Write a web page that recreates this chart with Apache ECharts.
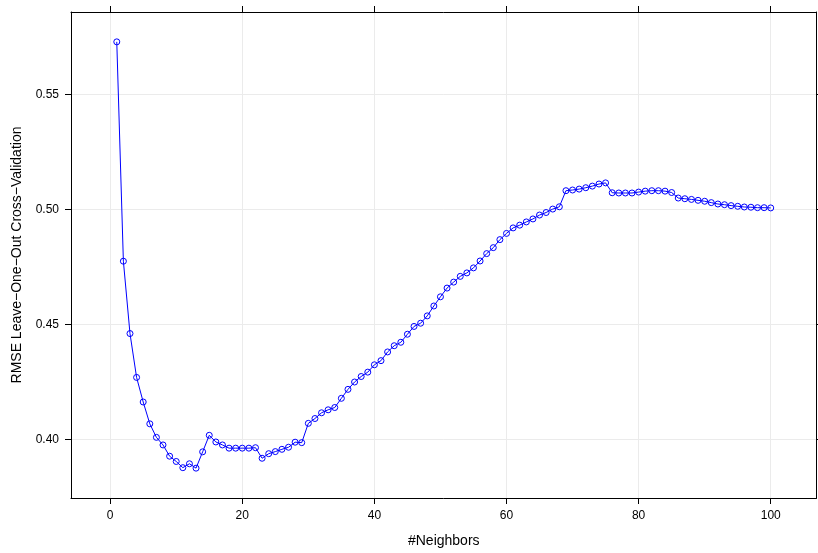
<!DOCTYPE html>
<html>
<head>
<meta charset="utf-8">
<script src="https://cdn.jsdelivr.net/npm/echarts@6/dist/echarts.min.js"></script>
<style>
  html, body { margin: 0; padding: 0; background: #fff; }
  #myChart { width: 818px; height: 553px; }
</style>
</head>
<body>
<div id="myChart"></div>
<script>
  // number of neighbors (k)
  var neighbors = [
    1, 2, 3, 4, 5, 6, 7, 8, 9, 10, 11, 12, 13, 14, 15, 16, 17, 18, 19, 20,
    21, 22, 23, 24, 25, 26, 27, 28, 29, 30, 31, 32, 33, 34, 35, 36, 37, 38, 39, 40,
    41, 42, 43, 44, 45, 46, 47, 48, 49, 50, 51, 52, 53, 54, 55, 56, 57, 58, 59, 60,
    61, 62, 63, 64, 65, 66, 67, 68, 69, 70, 71, 72, 73, 74, 75, 76, 77, 78, 79, 80,
    81, 82, 83, 84, 85, 86, 87, 88, 89, 90, 91, 92, 93, 94, 95, 96, 97, 98, 99, 100
  ]
  // RMSE leave-one-out
  var rmse = [
    0.5730, 0.4775, 0.4460, 0.4269, 0.4162, 0.4067, 0.4008, 0.3975, 0.3926, 0.3903,
    0.3876, 0.3893, 0.3874, 0.3945, 0.4017, 0.3988, 0.3975, 0.3961, 0.3961, 0.3961,
    0.3961, 0.3963, 0.3917, 0.3937, 0.3946, 0.3956, 0.3965, 0.3987, 0.3985, 0.4069,
    0.4090, 0.4115, 0.4128, 0.4138, 0.4178, 0.4217, 0.4249, 0.4273, 0.4292, 0.4324,
    0.4342, 0.4380, 0.4407, 0.4422, 0.4457, 0.4491, 0.4505, 0.4537, 0.4580, 0.4620,
    0.4658, 0.4684, 0.4709, 0.4724, 0.4746, 0.4776, 0.4808, 0.4834, 0.4869, 0.4896,
    0.4920, 0.4932, 0.4946, 0.4959, 0.4976, 0.4987, 0.5002, 0.5012, 0.5082, 0.5085,
    0.5089, 0.5095, 0.5102, 0.5111, 0.5116, 0.5073, 0.5072, 0.5072, 0.5072, 0.5076,
    0.5080, 0.5082, 0.5082, 0.5080, 0.5074, 0.5050, 0.5047, 0.5044, 0.5040, 0.5036,
    0.5030, 0.5024, 0.5021, 0.5017, 0.5014, 0.5011, 0.5010, 0.5008, 0.5008, 0.5007
  ]
  var xTicks = [0, 20, 40, 60, 80, 100]
  var yTicks = [0.40, 0.45, 0.50, 0.55]

  var points = neighbors.map(function (k, i) { return [k, rmse[i]] })

  var FONT = '"Liberation Sans", Arial, sans-serif'
  // axis line that stays on the frame edge, not at zero
  var frame = { show: true, onZero: false, lineStyle: { color: '#000', width: 1 } }

  var myChart = echarts.init(document.getElementById('myChart'), null, { renderer: 'canvas' })
  myChart.setOption({
    animation: false,
    backgroundColor: '#fff',
    grid: { left: 71, right: 1.5, top: 12, bottom: 47, containLabel: false },
    xAxis: [
      {
        type: 'value',
        position: 'bottom',
        min: -5.93,
        max: 106.93,
        axisLine: frame,
        axisTick: { show: true, inside: false, length: 6, customValues: xTicks, lineStyle: { color: '#000' } },
        axisLabel: { customValues: xTicks, margin: 12, fontSize: 12, color: '#000', fontFamily: FONT },
        splitLine: { show: true, lineStyle: { color: '#ebebeb', width: 1 } },
        name: '#Neighbors',
        nameLocation: 'middle',
        nameGap: 36,
        nameTextStyle: { fontSize: 14, color: '#000', fontFamily: FONT }
      },
      {
        // top side of the frame, ticks only
        type: 'value',
        position: 'top',
        min: -5.93,
        max: 106.93,
        axisLine: frame,
        axisTick: { show: true, length: 6, customValues: xTicks, lineStyle: { color: '#000' } },
        axisLabel: { show: false },
        splitLine: { show: false }
      }
    ],
    yAxis: [
      {
        type: 'value',
        position: 'left',
        min: 0.3744,
        max: 0.5860,
        axisLine: frame,
        axisTick: { show: true, length: 6, customValues: yTicks, lineStyle: { color: '#000' } },
        axisLabel: {
          customValues: yTicks,
          margin: 12,
          fontSize: 12,
          color: '#000',
          fontFamily: FONT,
          formatter: function (v) { return v.toFixed(2) }
        },
        splitLine: { show: true, lineStyle: { color: '#ebebeb', width: 1 } },
        name: 'RMSE Leave\u2212One\u2212Out Cross\u2212Validation',
        nameLocation: 'middle',
        nameGap: 47,
        nameTextStyle: { fontSize: 14, color: '#000', fontFamily: FONT }
      },
      {
        // right side of the frame, ticks only
        type: 'value',
        position: 'right',
        min: 0.3744,
        max: 0.5860,
        axisLine: frame,
        axisTick: { show: true, length: 6, customValues: yTicks, lineStyle: { color: '#000' } },
        axisLabel: { show: false },
        splitLine: { show: false }
      }
    ],
    series: [
      {
        type: 'line',
        xAxisIndex: 0,
        yAxisIndex: 0,
        data: points,
        symbol: 'circle',
        symbolSize: 6,
        showSymbol: true,
        showAllSymbol: true,
        lineStyle: { color: '#0000ff', width: 1 },
        itemStyle: { color: 'rgba(0,0,0,0)', borderColor: '#0000ff', borderWidth: 1 },
        emphasis: { disabled: true }
      }
    ]
  })
</script>
</body>
</html>
